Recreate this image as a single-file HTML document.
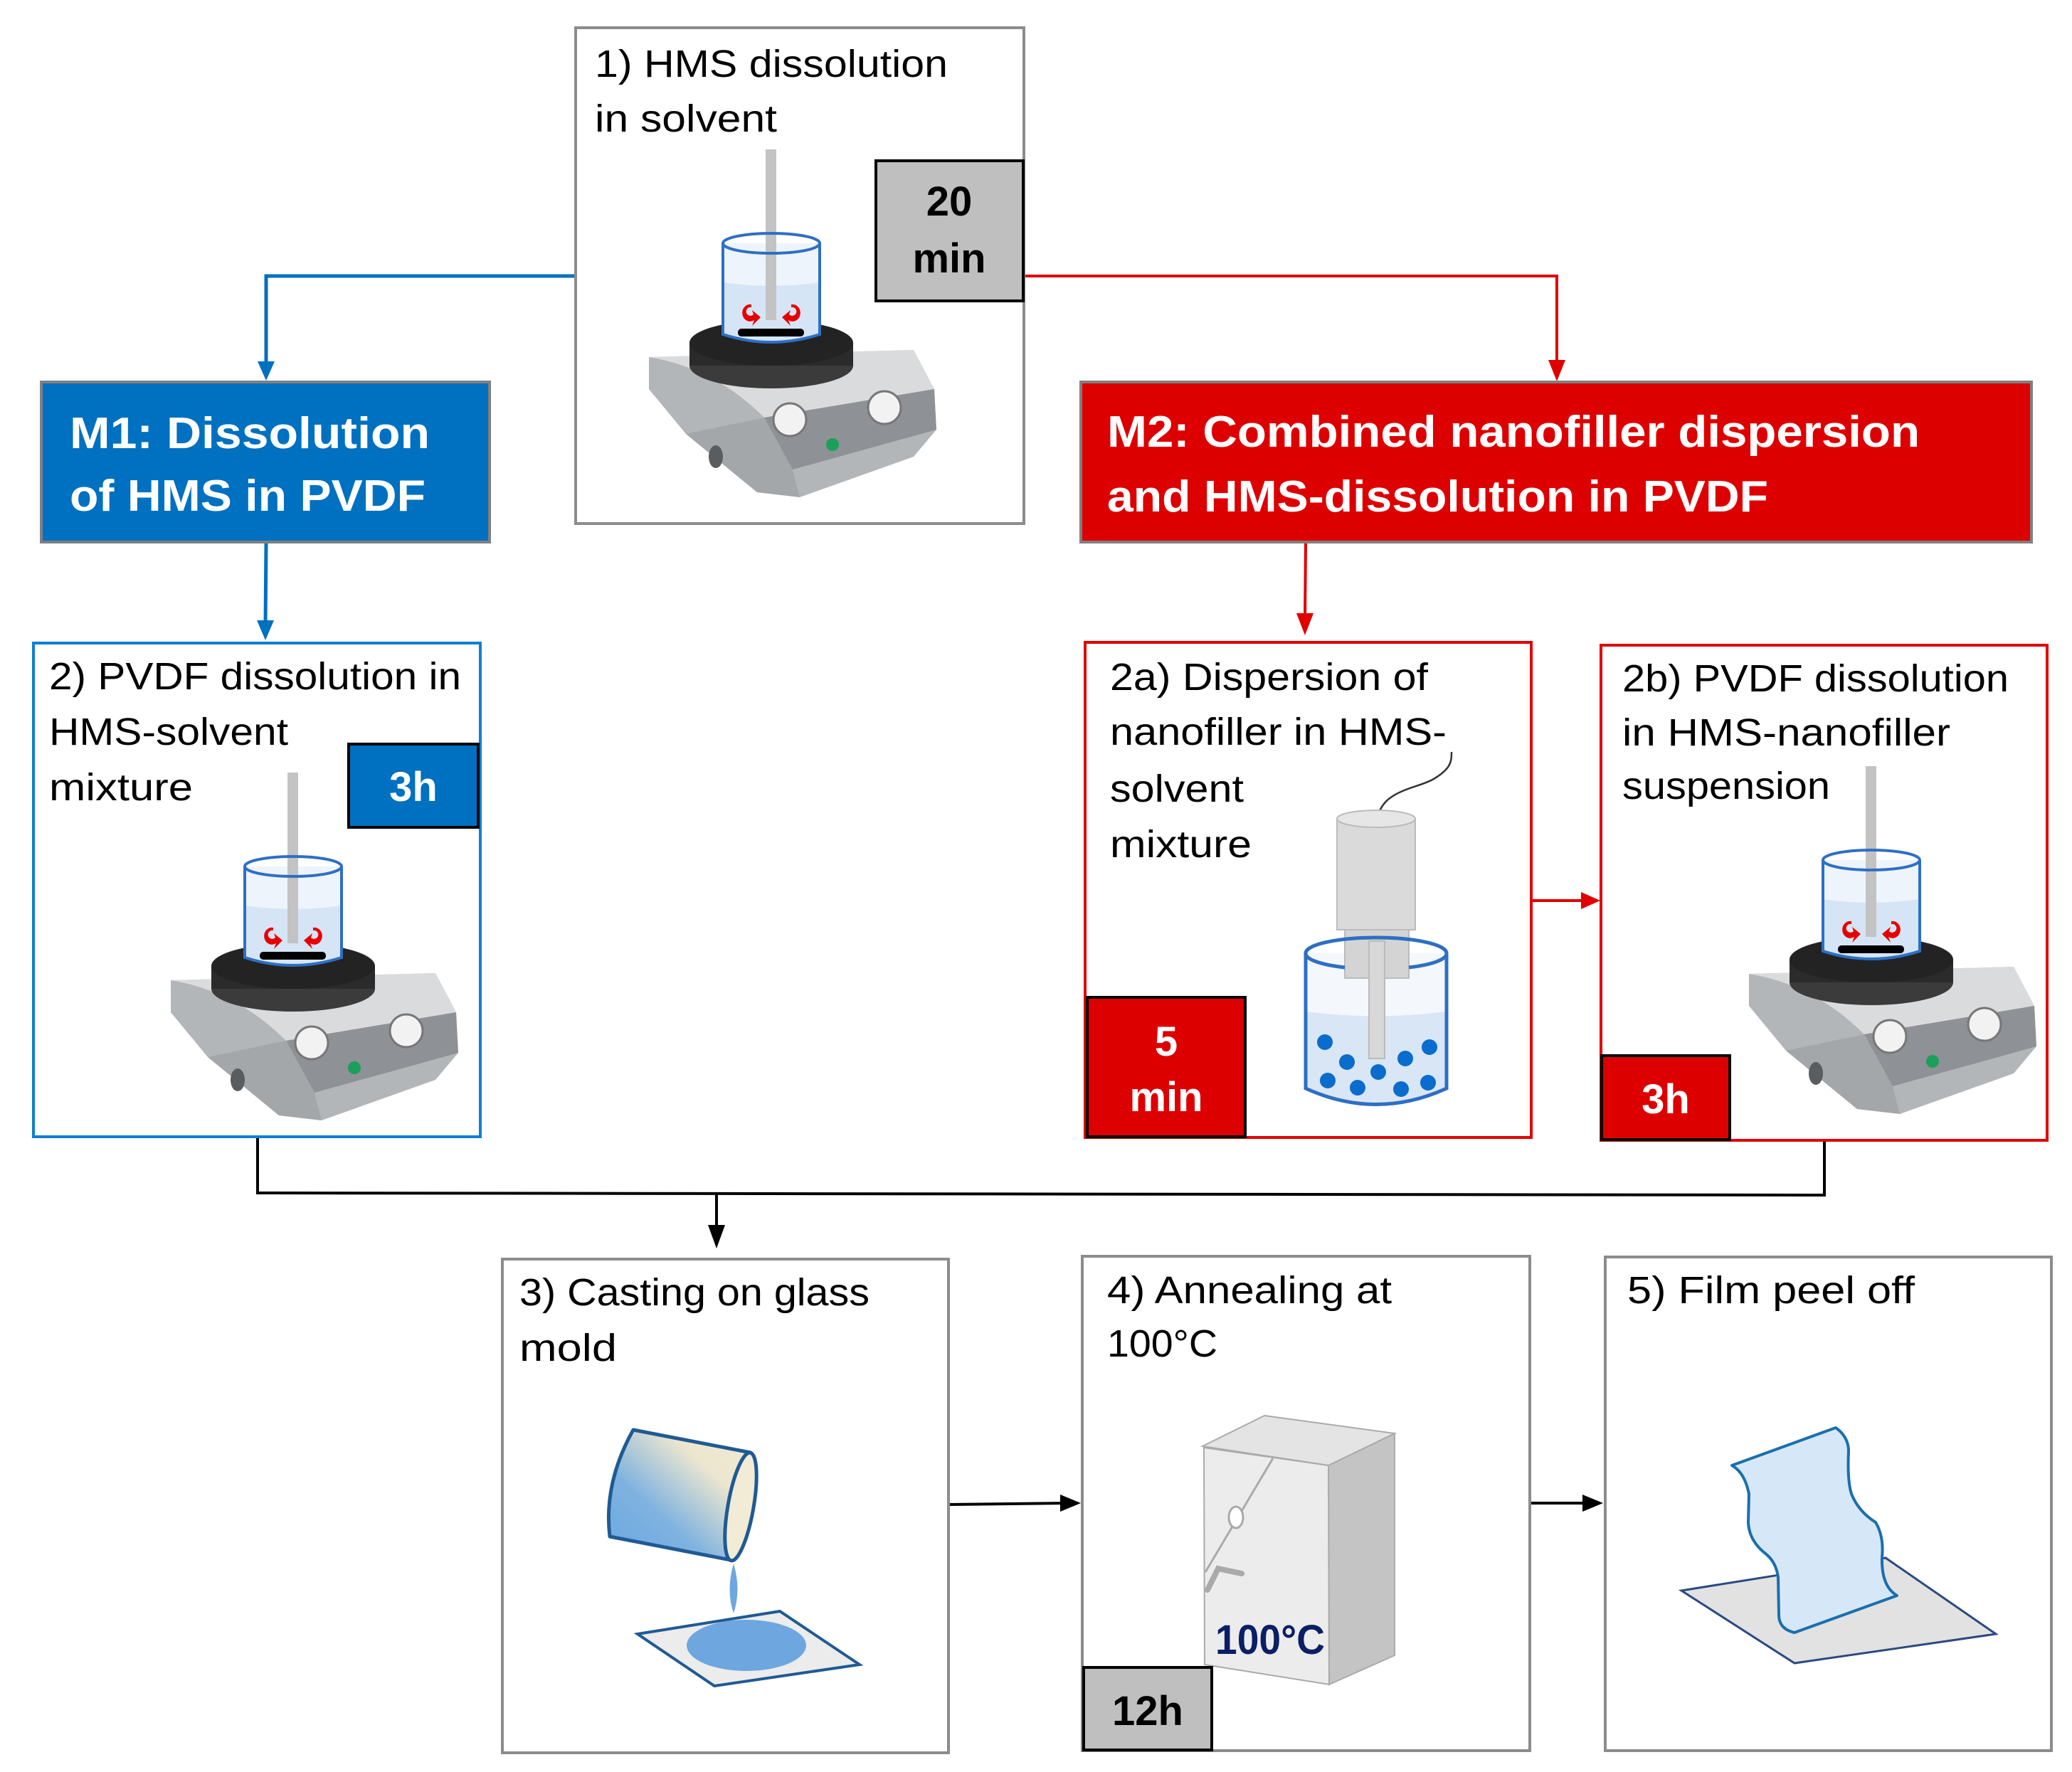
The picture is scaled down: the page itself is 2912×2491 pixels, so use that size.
<!DOCTYPE html>
<html><head><meta charset="utf-8"><style>
html,body{margin:0;padding:0;background:#fff;}
svg{display:block;}
text{font-family:"Liberation Sans",sans-serif;}
</style></head><body>
<svg width="2912" height="2491" viewBox="0 0 2912 2491" xmlns="http://www.w3.org/2000/svg">
<defs>
<linearGradient id="cup" x1="0" y1="1" x2="1" y2="0">
<stop offset="0" stop-color="#6aa8e0"/><stop offset="0.35" stop-color="#7fb2e0"/><stop offset="0.7" stop-color="#ece6cf"/><stop offset="1" stop-color="#f2ecd6"/></linearGradient>
<g id="hp">
 <path d="M-172 160 L200 150 L229 205 L232 262 L200 300 L40 357 L-20 350 L-120 268 L-172 205 Z" fill="#b3b6b9"/>
 <path d="M-172 160 L200 150 L229 205 L-10 245 Q-80 175 -172 160 Z" fill="#d9dbdd"/>
 <path d="M-10 245 L229 205 L232 262 L30 318 Z" fill="#8e9195"/>
 <path d="M-120 268 L-10 245 L30 318 L40 357 L-20 350 Z" fill="#a4a7aa"/>
 <ellipse cx="-78" cy="300" rx="10" ry="16" fill="#5a5d60"/>
 <ellipse cx="0" cy="172" rx="115" ry="32" fill="#3b3b3b"/>
 <rect x="-115" y="140" width="230" height="32" fill="#2b2b2b"/>
 <ellipse cx="0" cy="140" rx="115" ry="32" fill="#232323"/>
 <circle cx="26" cy="248" r="23" fill="#f2f2f2" stroke="#777" stroke-width="3"/>
 <circle cx="159" cy="231" r="23" fill="#f2f2f2" stroke="#777" stroke-width="3"/>
 <circle cx="86" cy="283" r="9" fill="#1aa05a"/>
 <path d="M-68 0 L-68 128 Q0 150 68 128 L68 0 Z" fill="#eef4fb"/>
 <path d="M-68 55 Q0 65 68 55 L68 128 Q0 150 68 128 L-68 128 Z" fill="#d5e5f6"/>
 <path d="M-68 128 Q0 150 68 128 L68 55 Q0 65 -68 55 Z" fill="#d5e5f6"/>
 <rect x="-47" y="120" width="93" height="11" rx="5" fill="#000"/>
 <path d="M-28 86 a11 12 0 1 0 4 22 l-3 8 l12 -12 l-12 -10 l2 6 a6 6 0 1 1 -3 -10 Z" fill="#e60000"/>
 <path d="M28 86 a11 12 0 1 1 -4 22 l3 8 l-12 -12 l12 -10 l-2 6 a6 6 0 1 0 3 -10 Z" fill="#e60000"/>
 <rect x="-8" y="-132" width="15" height="240" fill="#c3c3c3"/>
 <path d="M-68 0 L-68 128 Q0 150 68 128 L68 0" fill="none" stroke="#2e6fc4" stroke-width="4"/>
 <ellipse cx="0" cy="0" rx="68" ry="14" fill="none" stroke="#2e6fc4" stroke-width="4"/>
</g>
</defs>

<!-- connectors -->
<g fill="none" stroke-width="5">
 <path d="M808 388 L374 388 L374 512" stroke="#0070c0"/>
 <path d="M374 763 L373 878" stroke="#0070c0"/>
 <path d="M1439 388 L2188 388 L2188 512" stroke="#e00000" stroke-width="4"/>
 <path d="M1835 763 L1834 870" stroke="#e00000" stroke-width="4"/>
 <path d="M2152 1266 L2228 1266" stroke="#e00000" stroke-width="4"/>
 <path d="M362 1600 L362 1677 L2564 1680 L2564 1605" stroke="#000" stroke-width="4"/>
 <path d="M1007 1677 L1007 1730" stroke="#000" stroke-width="4"/>
 <path d="M1333 2115 L1500 2113" stroke="#000" stroke-width="4"/>
 <path d="M2150 2113 L2232 2113" stroke="#000" stroke-width="4"/>
</g>
<g>
 <polygon points="362,508 386,508 374,535" fill="#0070c0"/>
 <polygon points="361,872 385,872 373,900" fill="#0070c0"/>
 <polygon points="2176,506 2200,506 2188,536" fill="#e00000"/>
 <polygon points="1822,862 1846,862 1834,893" fill="#e00000"/>
 <polygon points="2222,1254 2222,1278 2249,1266" fill="#e00000"/>
 <polygon points="995,1722 1019,1722 1007,1755" fill="#000"/>
 <polygon points="1490,2101 1490,2125 1519,2113" fill="#000"/>
 <polygon points="2224,2101 2224,2125 2253,2113" fill="#000"/>
</g>

<!-- Box 1 -->
<rect x="809" y="39" width="630" height="697" fill="#fff" stroke="#8c8c8c" stroke-width="4"/>
<text x="836" y="108" font-size="54" textLength="496" lengthAdjust="spacingAndGlyphs">1) HMS dissolution</text>
<text x="836" y="185" font-size="54" textLength="256" lengthAdjust="spacingAndGlyphs">in solvent</text>
<use href="#hp" x="1084" y="342"/>
<rect x="1231" y="226" width="207" height="197" fill="#bfbfbf" stroke="#000" stroke-width="4"/>
<text x="1334" y="303" font-size="58" font-weight="bold" text-anchor="middle">20</text>
<text x="1334" y="383" font-size="58" font-weight="bold" text-anchor="middle">min</text>

<!-- M1 -->
<rect x="58" y="537" width="630" height="225" fill="#0070c0" stroke="#808080" stroke-width="4"/>
<text x="98" y="630" font-size="62" font-weight="bold" fill="#fff" textLength="506" lengthAdjust="spacingAndGlyphs">M1: Dissolution</text>
<text x="98" y="718" font-size="62" font-weight="bold" fill="#fff" textLength="500" lengthAdjust="spacingAndGlyphs">of HMS in PVDF</text>

<!-- M2 -->
<rect x="1519" y="537" width="1336" height="225" fill="#dd0000" stroke="#808080" stroke-width="4"/>
<text x="1556" y="628" font-size="62" font-weight="bold" fill="#fff" textLength="1142" lengthAdjust="spacingAndGlyphs">M2: Combined nanofiller dispersion</text>
<text x="1556" y="719" font-size="62" font-weight="bold" fill="#fff" textLength="929" lengthAdjust="spacingAndGlyphs">and HMS-dissolution in PVDF</text>

<!-- Box 2 -->
<rect x="47" y="904" width="628" height="694" fill="#fff" stroke="#0f7fd0" stroke-width="4"/>
<text x="69" y="969" font-size="54" textLength="579" lengthAdjust="spacingAndGlyphs">2) PVDF dissolution in</text>
<text x="69" y="1047" font-size="54" textLength="336" lengthAdjust="spacingAndGlyphs">HMS-solvent</text>
<text x="69" y="1125" font-size="54" textLength="202" lengthAdjust="spacingAndGlyphs">mixture</text>
<use href="#hp" x="412" y="1218"/>
<rect x="490" y="1046" width="182" height="117" fill="#0070c0" stroke="#000" stroke-width="4"/>
<text x="581" y="1126" font-size="58" font-weight="bold" fill="#fff" text-anchor="middle">3h</text>

<!-- Box 2a -->
<rect x="1525" y="903" width="627" height="696" fill="#fff" stroke="#e00000" stroke-width="4"/>
<text x="1560" y="970" font-size="54" textLength="447" lengthAdjust="spacingAndGlyphs">2a) Dispersion of</text>
<text x="1560" y="1047" font-size="54" textLength="473" lengthAdjust="spacingAndGlyphs">nanofiller in HMS-</text>
<text x="1560" y="1127" font-size="54" textLength="188" lengthAdjust="spacingAndGlyphs">solvent</text>
<text x="1560" y="1205" font-size="54" textLength="199" lengthAdjust="spacingAndGlyphs">mixture</text>
<!-- sonicator -->
<path d="M1935 1161 C1935 1110 1990 1110 2015 1095 C2040 1080 2040 1070 2040 1057" fill="none" stroke="#333" stroke-width="2.5"/>
<path d="M1835 1340 L1835 1530 Q1934 1575 2033 1530 L2033 1340 Z" fill="#f4f8fd"/>
<path d="M1837 1422 Q1934 1435 2031 1422 L2031 1530 Q1934 1575 1837 1530 Z" fill="#d8e6f6"/>
<rect x="1879" y="1151" width="110" height="156" fill="#dadada" stroke="#bbb" stroke-width="2"/>
<ellipse cx="1934" cy="1151" rx="55" ry="12" fill="#e6e6e6" stroke="#bbb" stroke-width="2"/>
<rect x="1890" y="1307" width="90" height="68" fill="#d4d4d4" stroke="#bbb" stroke-width="2"/>
<rect x="1924" y="1323" width="22" height="165" fill="#d8d8d8" stroke="#bbb" stroke-width="2"/>
<g fill="#0a6ccc">
<circle cx="1862" cy="1465" r="11"/><circle cx="1893" cy="1493" r="11"/><circle cx="1937" cy="1507" r="11"/><circle cx="1975" cy="1488" r="11"/><circle cx="2009" cy="1472" r="11"/><circle cx="1866" cy="1519" r="11"/><circle cx="1908" cy="1529" r="11"/><circle cx="1969" cy="1531" r="11"/><circle cx="2007" cy="1522" r="11"/>
</g>
<path d="M1835 1340 L1835 1530 Q1934 1575 2033 1530 L2033 1340" fill="none" stroke="#2e6fc4" stroke-width="5"/>
<path d="M1835 1340 A99 22 0 0 1 2033 1340" fill="none" stroke="#2e6fc4" stroke-width="5"/>
<path d="M1835 1340 A99 22 0 0 0 1890 1360 M1980 1360 A99 22 0 0 0 2033 1340" fill="none" stroke="#2e6fc4" stroke-width="5"/>
<rect x="1528" y="1402" width="222" height="196" fill="#dd0000" stroke="#000" stroke-width="4"/>
<text x="1639" y="1484" font-size="58" font-weight="bold" fill="#fff" text-anchor="middle">5</text>
<text x="1639" y="1562" font-size="58" font-weight="bold" fill="#fff" text-anchor="middle">min</text>

<!-- Box 2b -->
<rect x="2250" y="907" width="627" height="696" fill="#fff" stroke="#e00000" stroke-width="4"/>
<text x="2280" y="972" font-size="54" textLength="543" lengthAdjust="spacingAndGlyphs">2b) PVDF dissolution</text>
<text x="2280" y="1048" font-size="54" textLength="461" lengthAdjust="spacingAndGlyphs">in HMS-nanofiller</text>
<text x="2280" y="1123" font-size="54" textLength="292" lengthAdjust="spacingAndGlyphs">suspension</text>
<use href="#hp" x="2630" y="1209"/>
<rect x="2251" y="1484" width="180" height="118" fill="#dd0000" stroke="#000" stroke-width="4"/>
<text x="2341" y="1565" font-size="58" font-weight="bold" fill="#fff" text-anchor="middle">3h</text>

<!-- Box 3 -->
<rect x="706" y="1770" width="627" height="694" fill="#fff" stroke="#8c8c8c" stroke-width="4"/>
<text x="730" y="1835" font-size="54" textLength="492" lengthAdjust="spacingAndGlyphs">3) Casting on glass</text>
<text x="730" y="1913" font-size="54" textLength="137" lengthAdjust="spacingAndGlyphs">mold</text>
<polygon points="896,2297 1096,2265 1208,2340 1004,2370" fill="#ececec" stroke="#1f5a94" stroke-width="4"/>
<ellipse cx="1049" cy="2313" rx="84" ry="36" fill="#6ea6e0"/>
<path d="M1031 2198 Q1042 2235 1031 2268 Q1020 2235 1031 2198 Z" fill="#6ea6e0"/>
<path d="M890 2010 L1055 2042 L1027 2193 L857 2160 Q848 2085 890 2010 Z" fill="url(#cup)" stroke="#1f5a94" stroke-width="5" stroke-linejoin="round"/>
<ellipse cx="1041" cy="2118" rx="18" ry="77" transform="rotate(10 1041 2118)" fill="#f2ecd6" stroke="#1f5a94" stroke-width="5"/>

<!-- Box 4 -->
<rect x="1521" y="1766" width="629" height="695" fill="#fff" stroke="#8c8c8c" stroke-width="4"/>
<text x="1556" y="1832" font-size="54" textLength="400" lengthAdjust="spacingAndGlyphs">4) Annealing at</text>
<text x="1556" y="1907" font-size="54" textLength="155" lengthAdjust="spacingAndGlyphs">100°C</text>
<polygon points="1867,2060 1960,2015 1960,2327 1868,2368" fill="#c4c4c4" stroke="#aaa" stroke-width="2"/>
<polygon points="1690,2033 1777,1990 1960,2015 1867,2060" fill="#e4e4e4" stroke="#aaa" stroke-width="2"/>
<polygon points="1692,2035 1867,2060 1868,2368 1693,2340" fill="#ececec" stroke="#aaa" stroke-width="2"/>
<path d="M1789 2050 L1694 2210" stroke="#aaa" stroke-width="3"/>
<ellipse cx="1737" cy="2133" rx="10" ry="15" fill="#fff" stroke="#aaa" stroke-width="3"/>
<path d="M1697 2235 L1712 2205 L1745 2212" fill="none" stroke="#aaa" stroke-width="8" stroke-linecap="round"/>
<text x="1708" y="2325" font-size="58" font-weight="bold" fill="#0b1f66" textLength="154" lengthAdjust="spacingAndGlyphs">100°C</text>
<rect x="1523" y="2344" width="180" height="116" fill="#bfbfbf" stroke="#000" stroke-width="4"/>
<text x="1613" y="2425" font-size="58" font-weight="bold" text-anchor="middle">12h</text>

<!-- Box 5 -->
<rect x="2256" y="1767" width="627" height="694" fill="#fff" stroke="#8c8c8c" stroke-width="4"/>
<text x="2287" y="1832" font-size="54" textLength="404" lengthAdjust="spacingAndGlyphs">5) Film peel off</text>
<polygon points="2363,2236 2650,2190 2805,2297 2522,2338" fill="#e2e2e2" stroke="#2a4a80" stroke-width="3"/>
<path d="M2434 2060 L2580 2007 Q2598 2020 2598 2040 Q2596 2080 2602 2100 Q2612 2125 2636 2140 Q2648 2160 2645 2190 Q2644 2230 2666 2243 L2522 2295 Q2500 2290 2500 2270 L2499 2217 Q2496 2195 2480 2183 Q2458 2165 2457 2140 L2458 2100 Q2452 2070 2434 2060 Z" fill="#d6e8f7" stroke="#1a6fae" stroke-width="4" stroke-linejoin="round"/>
</svg>
</body></html>
